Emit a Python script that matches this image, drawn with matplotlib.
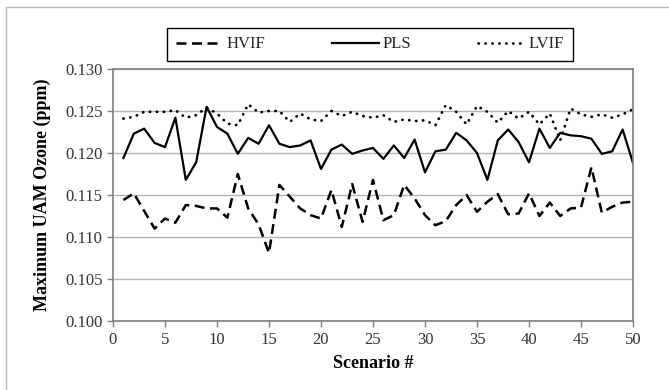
import matplotlib
matplotlib.use("Agg")
import matplotlib.pyplot as plt
from matplotlib.patches import Rectangle

# -------------------------
# Data
# -------------------------
scenarios = list(range(1, 51))

hvif = [0.1144, 0.1152, 0.1131, 0.1110, 0.1122, 0.1117, 0.1138, 0.1137, 0.1134, 0.1134,
        0.1123, 0.1175, 0.1134, 0.1115, 0.1081, 0.1162, 0.1148, 0.1134, 0.1126, 0.1122,
        0.1156, 0.1112, 0.1163, 0.1118, 0.1168, 0.1120, 0.1126, 0.1162, 0.1146, 0.1126,
        0.1114, 0.1119, 0.1138, 0.1150, 0.1130, 0.1142, 0.1151, 0.1127, 0.1128, 0.1152,
        0.1125, 0.1141, 0.1125, 0.1134, 0.1135, 0.1183, 0.1129, 0.1136, 0.1141, 0.1142]

pls = [0.1194, 0.1223, 0.1229, 0.1212, 0.1207, 0.1242, 0.1168, 0.1189, 0.1255, 0.1231,
       0.1223, 0.1199, 0.1218, 0.1211, 0.1233, 0.1211, 0.1207, 0.1209, 0.1215, 0.1181,
       0.1204, 0.1210, 0.1199, 0.1203, 0.1206, 0.1193, 0.1209, 0.1194, 0.1216, 0.1177,
       0.1202, 0.1204, 0.1224, 0.1215, 0.1200, 0.1168, 0.1215, 0.1228, 0.1213, 0.1189,
       0.1229, 0.1206, 0.1224, 0.1221, 0.1220, 0.1217, 0.1199, 0.1202, 0.1228, 0.1188]

lvif = [0.1241, 0.1243, 0.1249, 0.1249, 0.1249, 0.1251, 0.1242, 0.1245, 0.1254, 0.1247,
        0.1235, 0.1233, 0.1258, 0.1248, 0.1250, 0.1250, 0.1237, 0.1247, 0.1240, 0.1238,
        0.1250, 0.1244, 0.1249, 0.1244, 0.1242, 0.1245, 0.1237, 0.1240, 0.1238, 0.1239,
        0.1233, 0.1257, 0.1249, 0.1234, 0.1256, 0.1249, 0.1236, 0.1250, 0.1241, 0.1249,
        0.1234, 0.1247, 0.1215, 0.1253, 0.1246, 0.1243, 0.1246, 0.1242, 0.1246, 0.1252]

series_names = ['HVIF', 'PLS', 'LVIF']

plt.rcParams['font.family'] = ['Liberation Serif', 'DejaVu Serif']

# -------------------------
# Figure and axes
# -------------------------
fig = plt.figure(figsize=(6.69, 3.90), dpi=100)
ax = fig.add_axes([0.1689, 0.1769, 0.7773, 0.6462])

# outer light frame of the chart area
fig.patches.append(Rectangle((6 / 669, -0.02), 1.05, (390 - 7) / 390 + 0.02,
                             transform=fig.transFigure, fill=False,
                             edgecolor='#b8b8b8', linewidth=1.0, zorder=0))

ax.plot(scenarios, hvif, color='black', linewidth=1.8, linestyle=(0, (4, 2.2)),
        label=series_names[0])
ax.plot(scenarios, pls, color='black', linewidth=1.6, linestyle='-',
        label=series_names[1])
ax.plot(scenarios, lvif, color='black', linewidth=2.0, linestyle=(0, (0.1, 2.4)),
        dash_capstyle='round', label=series_names[2])

ax.set_xlim(0, 50)
ax.set_ylim(0.100, 0.130)
ax.set_xticks(range(0, 51, 5))
ax.set_yticks([0.100, 0.105, 0.110, 0.115, 0.120, 0.125, 0.130])
ax.set_yticklabels([f'{v:.3f}' for v in ax.get_yticks()])

ax.grid(axis='y', color='#b4b4b4', linewidth=1.0)
ax.set_axisbelow(True)

for side in ['left', 'bottom', 'right', 'top']:
    ax.spines[side].set_color('#7f7f7f')
    ax.spines[side].set_linewidth(1.2)

ax.tick_params(axis='both', colors='#7f7f7f', labelcolor='#333333',
               labelsize=12, length=4, width=1.0)
ax.tick_params(axis='x', pad=4)

ax.set_xlabel('Scenario #', fontsize=13, fontweight='bold', labelpad=5)
ax.set_ylabel('Maximum UAM Ozone (ppm)', fontsize=13, fontweight='bold', labelpad=10)

# -------------------------
# Legend on top
# -------------------------
leg = fig.legend(loc='center', bbox_to_anchor=(0.553, 0.886), ncol=3,
                 fontsize=12, handlelength=2.8, columnspacing=4.0,
                 handletextpad=0.25, borderpad=0.5, borderaxespad=0,
                 fancybox=False, framealpha=1)
leg.get_frame().set_edgecolor('black')
leg.get_frame().set_linewidth(1.0)
for t in leg.get_texts():
    t.set_color('#222222')

fig.savefig('out.png', dpi=100)
